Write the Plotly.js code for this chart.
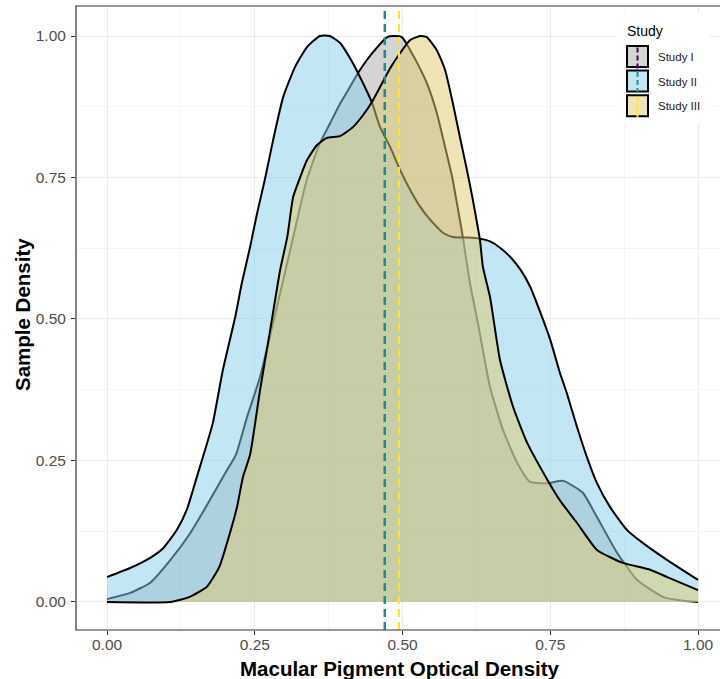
<!DOCTYPE html>
<html>
<head>
<meta charset="utf-8">
<script src="https://cdn.plot.ly/plotly-3.0.1.min.js"></script>
<style>
  html, body { margin: 0; padding: 0; background: #ffffff; overflow: hidden; }
  #chart { width: 720px; height: 679px; }
</style>
</head>
<body>
<div id="chart"></div>
<script>
// ---- Data ----
const studies = ["Study I", "Study II", "Study III"];

const xStudyI = [0, 0.039, 0.073, 0.107, 0.141, 0.174, 0.203, 0.218, 0.237, 0.259, 0.281, 0.31, 0.338, 0.36, 0.377, 0.394, 0.411, 0.425, 0.44, 0.457, 0.474, 0.484, 0.499, 0.513, 0.525, 0.541, 0.558, 0.572, 0.584, 0.594, 0.602, 0.614, 0.628, 0.648, 0.67, 0.694, 0.716, 0.745, 0.772, 0.805, 0.829, 0.863, 0.897, 0.941, 0.975, 1.0];
const yStudyI = [0.005, 0.016, 0.034, 0.074, 0.122, 0.18, 0.233, 0.26, 0.327, 0.398, 0.493, 0.622, 0.746, 0.81, 0.845, 0.88, 0.91, 0.935, 0.958, 0.98, 0.998, 1.0, 0.998, 0.975, 0.952, 0.917, 0.864, 0.804, 0.751, 0.693, 0.645, 0.564, 0.49, 0.38, 0.304, 0.246, 0.212, 0.21, 0.214, 0.193, 0.15, 0.087, 0.039, 0.009, 0.002, 0.0];

const xStudyII = [0, 0.039, 0.073, 0.095, 0.118, 0.135, 0.152, 0.166, 0.179, 0.196, 0.217, 0.228, 0.242, 0.254, 0.267, 0.281, 0.298, 0.318, 0.338, 0.36, 0.377, 0.394, 0.416, 0.433, 0.448, 0.462, 0.479, 0.496, 0.513, 0.53, 0.547, 0.569, 0.585, 0.61, 0.631, 0.648, 0.665, 0.682, 0.699, 0.716, 0.733, 0.75, 0.766, 0.778, 0.795, 0.812, 0.829, 0.851, 0.88, 0.907, 0.948, 1.0];
const yStudyII = [0.044, 0.06, 0.078, 0.095, 0.127, 0.163, 0.221, 0.269, 0.316, 0.41, 0.504, 0.563, 0.627, 0.687, 0.746, 0.816, 0.892, 0.945, 0.98, 1.0, 1.0, 0.988, 0.952, 0.917, 0.883, 0.839, 0.804, 0.763, 0.728, 0.698, 0.675, 0.652, 0.645, 0.644, 0.642, 0.637, 0.626, 0.61, 0.588, 0.557, 0.512, 0.463, 0.406, 0.369, 0.31, 0.256, 0.21, 0.168, 0.127, 0.104, 0.074, 0.039];

const xStudyIII = [0, 0.107, 0.14, 0.169, 0.19, 0.208, 0.22, 0.23, 0.242, 0.259, 0.276, 0.293, 0.305, 0.315, 0.327, 0.338, 0.355, 0.372, 0.394, 0.416, 0.433, 0.448, 0.462, 0.479, 0.496, 0.513, 0.53, 0.541, 0.558, 0.572, 0.585, 0.597, 0.609, 0.618, 0.626, 0.631, 0.636, 0.648, 0.665, 0.687, 0.711, 0.745, 0.766, 0.795, 0.829, 0.873, 0.919, 0.948, 1.0];
const yStudyIII = [0, 0.0, 0.009, 0.027, 0.062, 0.122, 0.168, 0.221, 0.26, 0.375, 0.48, 0.587, 0.645, 0.716, 0.751, 0.78, 0.807, 0.82, 0.823, 0.839, 0.86, 0.883, 0.91, 0.943, 0.97, 0.993, 1.0, 0.998, 0.975, 0.94, 0.882, 0.822, 0.763, 0.716, 0.67, 0.64, 0.592, 0.539, 0.427, 0.345, 0.281, 0.216, 0.18, 0.14, 0.092, 0.069, 0.057, 0.044, 0.021];

// Mean lines (Study I lies underneath Study II's line)
const studyMeans = [0.47, 0.47, 0.494];

const xTickVals = [0, 0.25, 0.5, 0.75, 1.0];
const yTickVals = [0, 0.25, 0.5, 0.75, 1.0];

// ---- Styles ----
const fillColors = ["rgba(169,169,169,0.5)", "rgba(135,206,235,0.5)", "rgba(222,202,110,0.5)"];
const meanColors = ["#440154", "#21908C", "#FDE725"];

const xs = [xStudyI, xStudyII, xStudyIII];
const ys = [yStudyI, yStudyII, yStudyIII];

const traces = studies.map((name, i) => ({
  type: "scatter",
  mode: "lines",
  name: name,
  x: xs[i],
  y: ys[i],
  fill: "tozeroy",
  fillcolor: fillColors[i],
  line: { color: "#000000", width: 2, shape: "spline", smoothing: 0.5 },
  hoverinfo: "skip",
  showlegend: false
}));

// pixel helpers for the hand-made legend (plot area: left 76, top 6, width 644, height 624)
const L = 76, T = 6, W = 644, H = 624;
const px = v => (v - L) / W;
const py = v => (T + H - v) / H;

const shapes = [];
// mean lines
studies.forEach((s, i) => {
  shapes.push({
    type: "line", xref: "x", yref: "paper",
    x0: studyMeans[i], x1: studyMeans[i], y0: 0, y1: 1,
    line: { color: meanColors[i], width: 2, dash: "8px,5px" }, layer: "above"
  });
});
// panel border (right edge falls outside the window, as in the reference)
shapes.push({
  type: "rect", xref: "paper", yref: "paper", x0: 0, x1: 1.02, y0: 0, y1: 1,
  line: { color: "#333333", width: 1.2 }, fillcolor: "rgba(0,0,0,0)", layer: "above"
});
// legend background
shapes.push({
  type: "rect", xref: "paper", yref: "paper",
  x0: px(617), x1: px(710), y0: py(124), y1: py(13),
  line: { width: 0 }, fillcolor: "#ffffff", layer: "above"
});
const rowCenters = [56.5, 81, 105.8];
const annotations = [];
annotations.push({
  xref: "paper", yref: "paper", x: px(625), y: py(31), xanchor: "left", yanchor: "middle",
  text: "Study", showarrow: false, font: { family: "Liberation Sans, Arial, sans-serif", size: 14, color: "#000000" }
});
studies.forEach((s, i) => {
  const c = rowCenters[i];
  shapes.push({
    type: "rect", xref: "paper", yref: "paper",
    x0: px(627), x1: px(648), y0: py(c + 10.5), y1: py(c - 10.5),
    line: { color: "#000000", width: 2 }, fillcolor: fillColors[i], layer: "above"
  });
  shapes.push({
    type: "line", xref: "paper", yref: "paper",
    x0: px(637.5), x1: px(637.5), y0: py(c + 12), y1: py(c - 12),
    line: { color: meanColors[i], width: 2, dash: "5px,3px" }, layer: "above"
  });
  annotations.push({
    xref: "paper", yref: "paper", x: px(656), y: py(c + 0.5), xanchor: "left", yanchor: "middle",
    text: s, showarrow: false, font: { family: "Liberation Sans, Arial, sans-serif", size: 11.5, color: "#1a1a1a" }
  });
});
// axis titles
annotations.push({
  xref: "paper", yref: "paper", x: px(400), y: py(668), xanchor: "center", yanchor: "middle",
  text: "<b>Macular Pigment Optical Density</b>", showarrow: false,
  font: { family: "Liberation Sans, Arial, sans-serif", size: 20.5, color: "#000000" }
});
annotations.push({
  xref: "paper", yref: "paper", x: px(22), y: py(314), xanchor: "center", yanchor: "middle",
  text: "<b>Sample Density</b>", textangle: -90, showarrow: false,
  font: { family: "Liberation Sans, Arial, sans-serif", size: 20.5, color: "#000000" }
});

const tickFont = { family: "Liberation Sans, Arial, sans-serif", size: 15.5, color: "#4D4D4D" };

const layout = {
  width: 720, height: 679,
  margin: { l: L, r: 0, t: T, b: 679 - T - H },
  paper_bgcolor: "#ffffff",
  plot_bgcolor: "#ffffff",
  showlegend: false,
  xaxis: {
    range: [-0.0525, -0.0525 + W / 591],
    tickvals: xTickVals,
    ticktext: xTickVals.map(v => v.toFixed(2)),
    ticks: "outside", ticklen: 4, tickwidth: 1, tickcolor: "#333333",
    tickfont: tickFont,
    ticklabelstandoff: -4,
    showgrid: true, gridcolor: "#EBEBEB", gridwidth: 1,
    minor: { dtick: 0.25, tick0: 0.125, showgrid: true, gridcolor: "#F2F2F2", gridwidth: 0.8, ticks: "" },
    zeroline: false, showline: false
  },
  yaxis: {
    range: [-0.0495, 1.053],
    tickvals: yTickVals,
    ticktext: yTickVals.map(v => v.toFixed(2)),
    ticks: "outside", ticklen: 4, tickwidth: 1, tickcolor: "#333333",
    tickfont: tickFont,
    ticklabelstandoff: 2,
    showgrid: true, gridcolor: "#EBEBEB", gridwidth: 1,
    minor: { dtick: 0.25, tick0: 0.125, showgrid: true, gridcolor: "#F2F2F2", gridwidth: 0.8, ticks: "" },
    zeroline: false, showline: false
  },
  shapes: shapes,
  annotations: annotations
};

Plotly.newPlot("chart", traces, layout, { staticPlot: true, displayModeBar: false });
</script>
</body>
</html>
